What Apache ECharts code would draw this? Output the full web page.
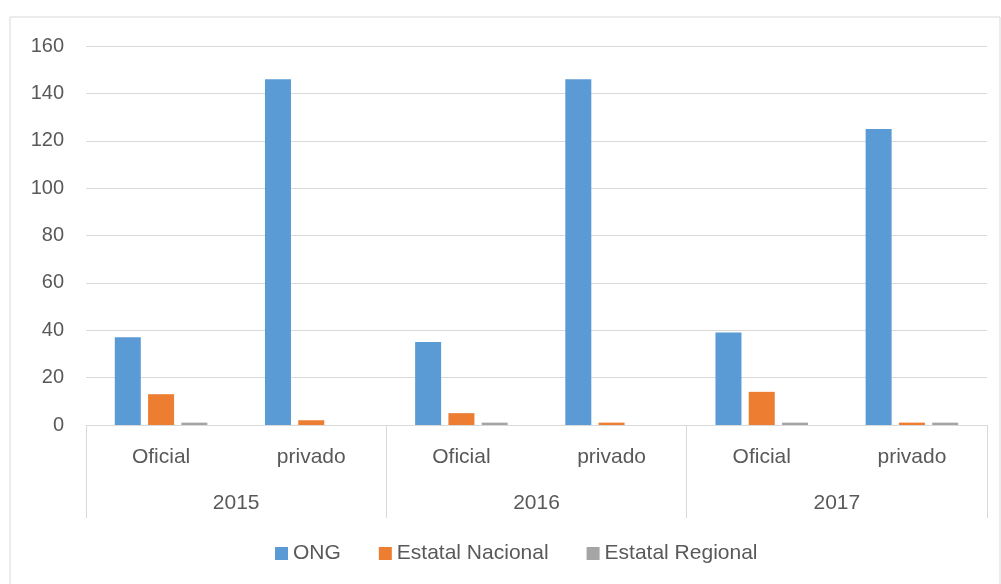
<!DOCTYPE html>
<html>
<head>
<meta charset="utf-8">
<script src="https://cdn.jsdelivr.net/npm/echarts@6/dist/echarts.min.js"></script>
<style>
  html, body { margin: 0; padding: 0; background: #fff; }
  #chart { width: 1001px; height: 584px; }
</style>
</head>
<body>
<div id="chart"></div>
<script>
// categorias (nivel 1 y nivel 2)
var tipos = ['Oficial', 'privado', 'Oficial', 'privado', 'Oficial', 'privado'];
var anios = ['2015', '2016', '2017'];

// valores por serie
var ong = [37, 146, 35, 146, 39, 125];
var estatalNacional = [13, 2, 5, 1, 14, 1];
var estatalRegional = [1, 0, 1, 0, 1, 1];

var yTicks = [0, 20, 40, 60, 80, 100, 120, 140, 160];

var fuente = 'Liberation Sans';
var gris = '#595959';

var myChart = echarts.init(document.getElementById('chart'));

var option = {
    animation: false,
    backgroundColor: '#fff',
    textStyle: { fontFamily: fuente, color: gris },
    graphic: [
        {
            type: 'rect',
            shape: { x: 10, y: 17, width: 990, height: 580 },
            style: { fill: 'none', stroke: '#d9d9d9', lineWidth: 1 },
            silent: true
        }
    ],
    grid: { left: 86, right: 14, top: 46, bottom: 159 },
    legend: {
        bottom: 15,
        left: 270,
        itemWidth: 13,
        itemHeight: 13,
        itemGap: 38,
        icon: 'rect',
        textStyle: { fontSize: 21, color: gris, fontFamily: fuente },
        data: ['ONG', 'Estatal Nacional', 'Estatal Regional']
    },
    xAxis: [
        {
            type: 'category',
            data: tipos,
            axisLine: { show: true, lineStyle: { color: '#d9d9d9' } },
            axisTick: { show: false },
            axisLabel: { margin: 22, fontSize: 21, color: gris, fontFamily: fuente }
        },
        {
            type: 'category',
            data: anios,
            position: 'bottom',
            axisLine: { show: false },
            axisTick: { show: true, length: 93, lineStyle: { color: '#d9d9d9' } },
            axisLabel: { margin: 68, fontSize: 21, color: gris, fontFamily: fuente },
            splitLine: { show: false }
        }
    ],
    yAxis: {
        type: 'value',
        min: yTicks[0],
        max: yTicks[yTicks.length - 1],
        interval: 20,
        axisLine: { show: false },
        axisTick: { show: false },
        axisLabel: { margin: 22, fontSize: 20, color: gris, fontFamily: fuente },
        splitLine: { lineStyle: { color: '#d9d9d9', width: 1 } }
    },
    series: [
        {
            name: 'ONG',
            type: 'bar',
            data: ong,
            barWidth: 26,
            barGap: '28%',
            itemStyle: { color: '#5b9bd5' }
        },
        {
            name: 'Estatal Nacional',
            type: 'bar',
            data: estatalNacional,
            barWidth: 26,
            barGap: '28%',
            itemStyle: { color: '#ed7d31' }
        },
        {
            name: 'Estatal Regional',
            type: 'bar',
            data: estatalRegional,
            barWidth: 26,
            barGap: '28%',
            itemStyle: { color: '#a5a5a5' }
        }
    ]
};

myChart.setOption(option);
</script>
</body>
</html>
